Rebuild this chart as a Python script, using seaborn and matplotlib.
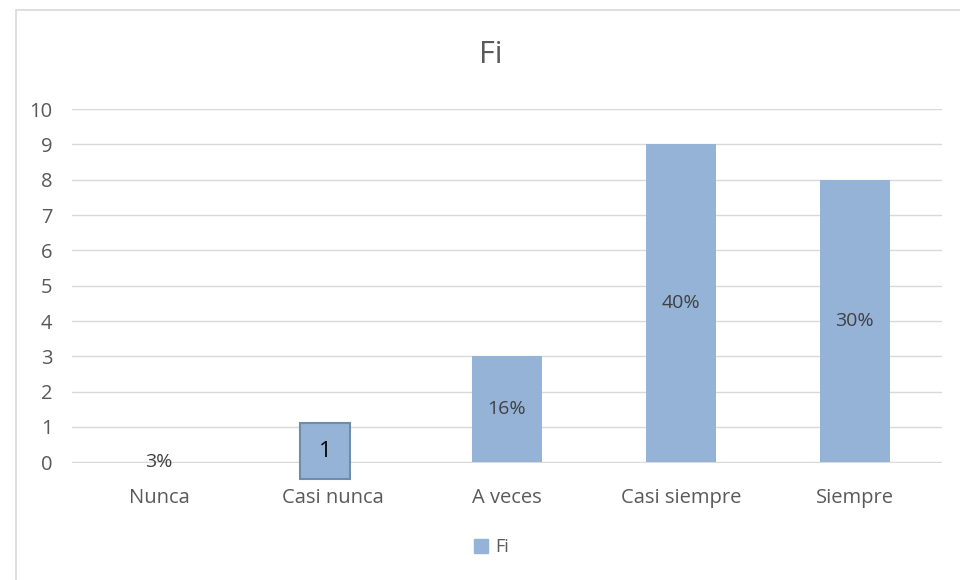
import matplotlib
matplotlib.use("Agg")
import matplotlib.pyplot as plt
import seaborn as sns
import pandas as pd
from matplotlib.patches import Rectangle

# chart data
categories = ["Nunca", "Casi nunca", "A veces", "Casi siempre", "Siempre"]
fi_values = [0, 0, 3, 9, 8]
pct_labels = ["3%", "11%", "16%", "40%", "30%"]
box_text = "1"

bar_color = "#95B3D7"
text_color = "#595959"

sns.set_theme(style="white")
plt.rcParams["font.family"] = ["Open Sans", "DejaVu Sans"]

df = pd.DataFrame({"Categoria": categories, "Fi": fi_values})

fig = plt.figure(figsize=(9.6, 5.8), dpi=100)
ax = fig.add_axes([0.075, 0.2017, 0.906, 0.6103])

sns.barplot(data=df, x="Categoria", y="Fi", color=bar_color, width=0.4,
            saturation=1, linewidth=0, ax=ax, zorder=2)

ax.set_ylim(-0.02, 10)
ax.set_yticks(range(0, 11))
ax.grid(axis="y", color="#D9D9D9", linewidth=1, zorder=0)
ax.set_axisbelow(True)
for s in ax.spines.values():
    s.set_visible(False)
ax.tick_params(axis="both", length=0, labelsize=14.5, colors=text_color)
ax.tick_params(axis="x", pad=18)
ax.tick_params(axis="y", pad=14)
ax.set_xlabel("")
ax.set_ylabel("")

# percentage labels in the middle of each bar
for i, (v, lab) in enumerate(zip(fi_values, pct_labels)):
    ax.text(i, v / 2, lab, ha="center", va="center", fontsize=14,
            color="#404040", zorder=3)

# overlay box with "1" on Casi nunca
box = Rectangle((1 - 0.19, -0.48), 0.29, 1.58, facecolor=bar_color,
                edgecolor="#6F8CAB", linewidth=1.5, zorder=5)
ax.add_patch(box)
box.set_clip_on(False)
ax.text(1 - 0.045, 0.32, box_text, ha="center", va="center", fontsize=16,
        color="black", zorder=6)

fig.text(0.511, 0.905, "Fi", ha="center", va="center", fontsize=22,
         color=text_color)

# legend
ax.legend(handles=[Rectangle((0, 0), 1, 1, color=bar_color)], labels=["Fi"],
          loc="center", bbox_to_anchor=(0.512, 0.057), bbox_transform=fig.transFigure,
          frameon=False, fontsize=13, handlelength=0.8, handleheight=0.8,
          handletextpad=0.4, labelcolor=text_color)

# chart border
fig.patches.append(Rectangle((16 / 960, -0.01), 1.0, 1 - 10 / 580 + 0.01,
                             transform=fig.transFigure, fill=False,
                             edgecolor="#D9D9D9", linewidth=1.2))

fig.savefig("out.png", dpi=100, facecolor="white")
